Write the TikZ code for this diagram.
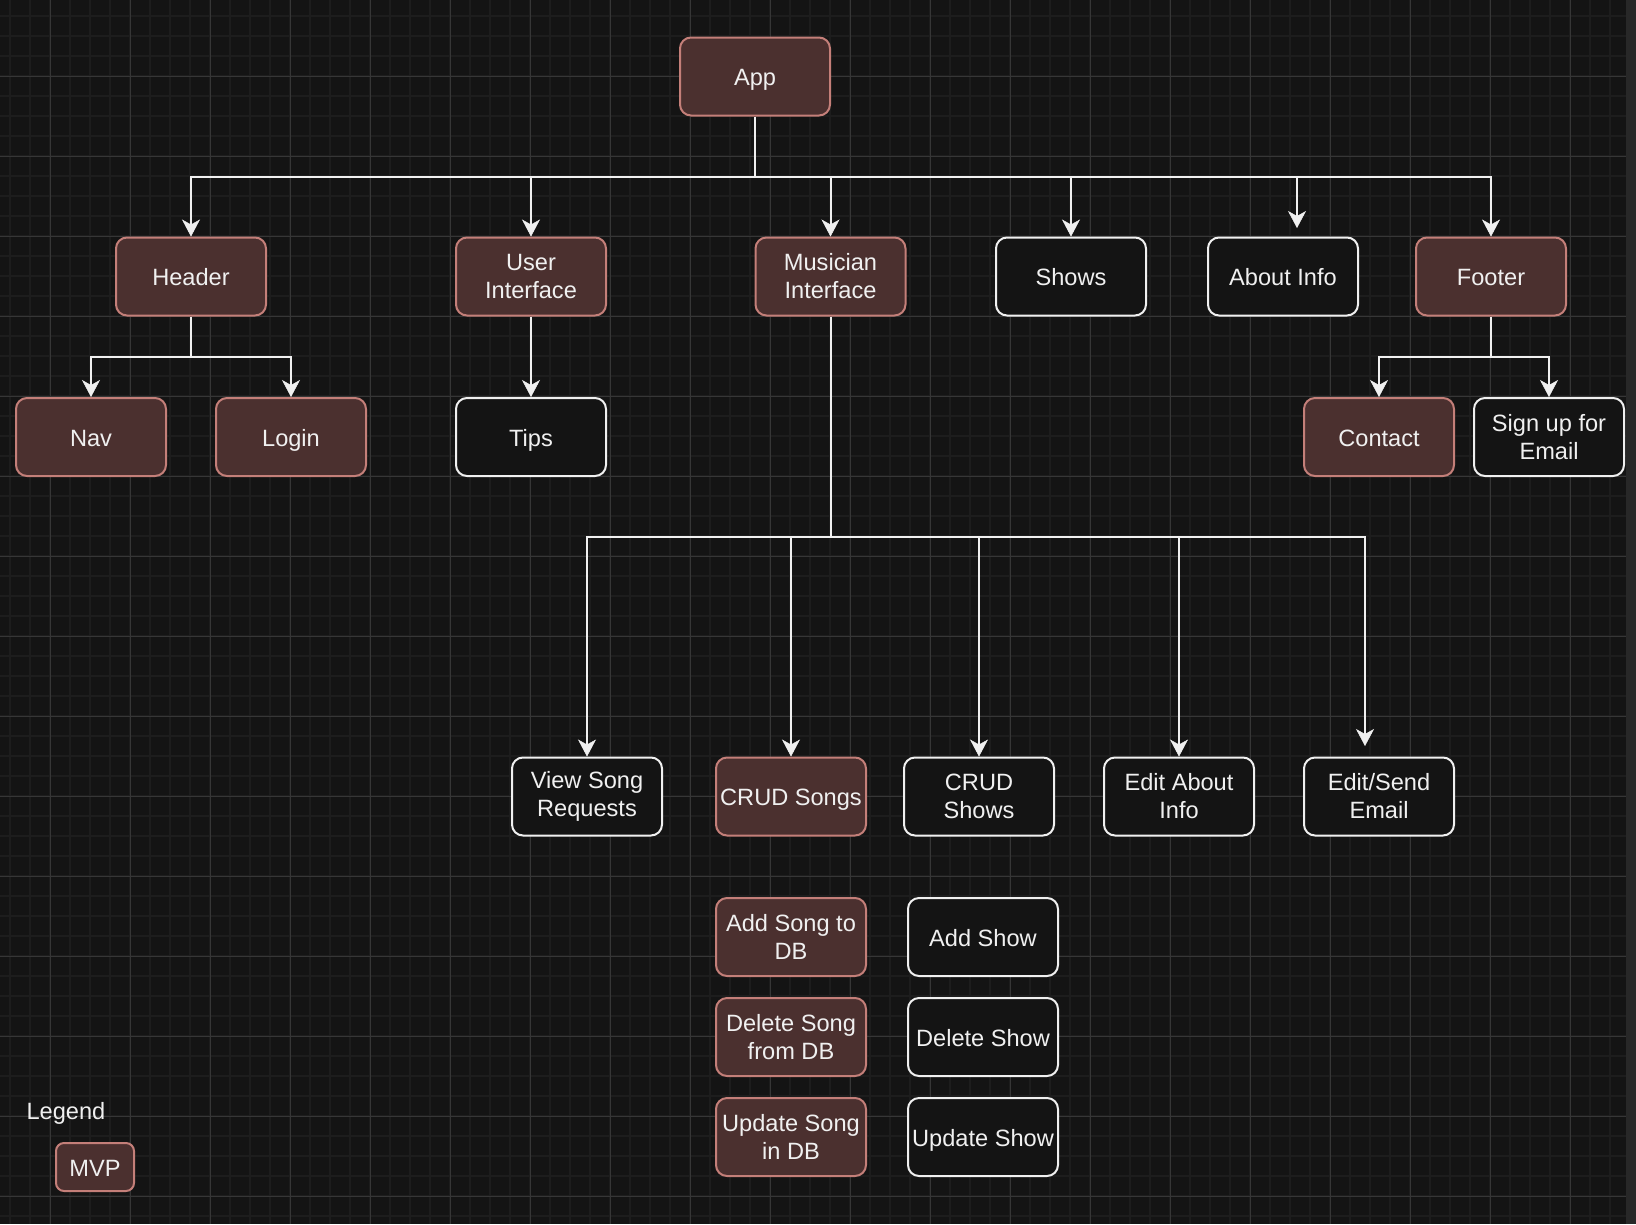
\documentclass[tikz,border=0pt]{standalone}
\usepackage{fontspec}
\setmainfont{Liberation Sans}
\usetikzlibrary{arrows.meta}
\definecolor{bg}{HTML}{141414}
\definecolor{gridminor}{HTML}{1D1D1D}
\definecolor{gridmajor}{HTML}{363636}
\definecolor{mvpfill}{HTML}{4B302F}
\definecolor{mvpdraw}{HTML}{C47F79}
\definecolor{txt}{HTML}{F0F0F0}
\definecolor{strip}{HTML}{282828}
\begin{document}
\begin{tikzpicture}[x=1pt,y=-1pt,
  box/.style={rectangle, rounded corners=11pt, line width=2pt, minimum width=150pt, minimum height=78pt, inner sep=2pt, align=center, text=txt, font=\fontsize{23.6}{28}\selectfont},
  mvp/.style={box, draw=mvpdraw, fill=mvpfill},
  plain/.style={box, draw=txt, fill=bg},
  one/.style={text height=18.5pt, text depth=0pt},
  conn/.style={draw=txt, line width=2pt},
  arr/.style={conn, -{Stealth[length=17pt,width=18pt,inset=5pt,color=txt,fill=txt,line width=0.5pt]}}]
\fill[bg] (0,0) rectangle (1636,1224);
\useasboundingbox (0,0) rectangle (1636,1224);
\foreach \x in {10,30,...,1610} \draw[gridminor, line width=2pt] (\x,0) -- (\x,1224);
\foreach \y in {16,36,...,1216} \draw[gridminor, line width=2pt] (0,\y) -- (1626,\y);
\foreach \x in {50,130,...,1570} \draw[gridmajor, line width=1pt] (\x,0) -- (\x,1224);
\foreach \y in {76,156,...,1196} \draw[gridmajor, line width=1pt] (0,\y) -- (1626,\y);
\fill[strip] (1626,0) rectangle (1636,1224);

\node[mvp, one] (app) at (755,76.5) {App};

\node[mvp, one] (header) at (191,276.5) {Header};
\node[mvp] (ui) at (531,276.5) {User\\Interface};
\node[mvp] (musician) at (830.5,276.5) {Musician\\Interface};
\node[plain, one] (shows) at (1071,276.5) {Shows};
\node[plain, one] (about) at (1283,276.5) {About Info};
\node[mvp, one] (footer) at (1491,276.5) {Footer};

\node[mvp, one] (nav) at (91,437) {Nav};
\node[mvp, one] (login) at (291,437) {Login};
\node[plain, one] (tips) at (531,437) {Tips};
\node[mvp, one] (contact) at (1379,437) {Contact};
\node[plain] (signup) at (1549,437) {Sign up for\\Email};

\node[plain] (view) at (587,796.5) {View Song\\Requests};
\node[mvp, one] (crudsongs) at (791,796.5) {CRUD Songs};
\node[plain] (crudshows) at (979,796.5) {CRUD\\Shows};
\node[plain] (editabout) at (1179,796.5) {Edit About\\Info};
\node[plain] (editsend) at (1379,796.5) {Edit/Send\\Email};

\node[mvp] (addsong) at (791,937) {Add Song to\\DB};
\node[mvp] (delsong) at (791,1037) {Delete Song\\from DB};
\node[mvp] (updsong) at (791,1137) {Update Song\\in DB};
\node[plain, one] (addshow) at (983,937) {Add Show};
\node[plain, one] (delshow) at (983,1037) {Delete Show};
\node[plain, one] (updshow) at (983,1137) {Update Show};

\node[text=txt, font=\fontsize{23.6}{28}\selectfont, inner sep=0pt] (legend) at (66,1113) {Legend};
\node[mvp, one, minimum width=78pt, minimum height=48pt, rounded corners=8pt] (mvplegend) at (95,1167) {MVP};

% connectors from App
\coordinate (bus) at (755,177);
\coordinate (aboutend) at (1297,228);
\draw[conn] (app.south) -- (bus);
\draw[arr] (bus) -| (header.north);
\draw[arr] (bus) -| (ui.north);
\draw[arr] (bus) -| (musician.north);
\draw[arr] (bus) -| (shows.north);
\draw[arr] (bus) -| (aboutend);
\draw[arr] (bus) -| (footer.north);

% header
\coordinate (hbus) at (191,357);
\draw[conn] (header.south) -- (hbus);
\draw[arr] (hbus) -| (nav.north);
\draw[arr] (hbus) -| (login.north);

% user interface
\draw[arr] (ui.south) -- (tips.north);

% footer
\coordinate (fbus) at (1491,357);
\draw[conn] (footer.south) -- (fbus);
\draw[arr] (fbus) -| (contact.north);
\draw[arr] (fbus) -| (signup.north);

% musician
\coordinate (mbus) at (830.5,537);
\coordinate (editsendend) at (1365,746);
\draw[conn] (musician.south) -- (mbus);
\draw[arr] (mbus) -| (view.north);
\draw[arr] (mbus) -| (crudsongs.north);
\draw[arr] (mbus) -| (crudshows.north);
\draw[arr] (mbus) -| (editabout.north);
\draw[arr] (mbus) -| (editsendend);
\end{tikzpicture}
\end{document}
